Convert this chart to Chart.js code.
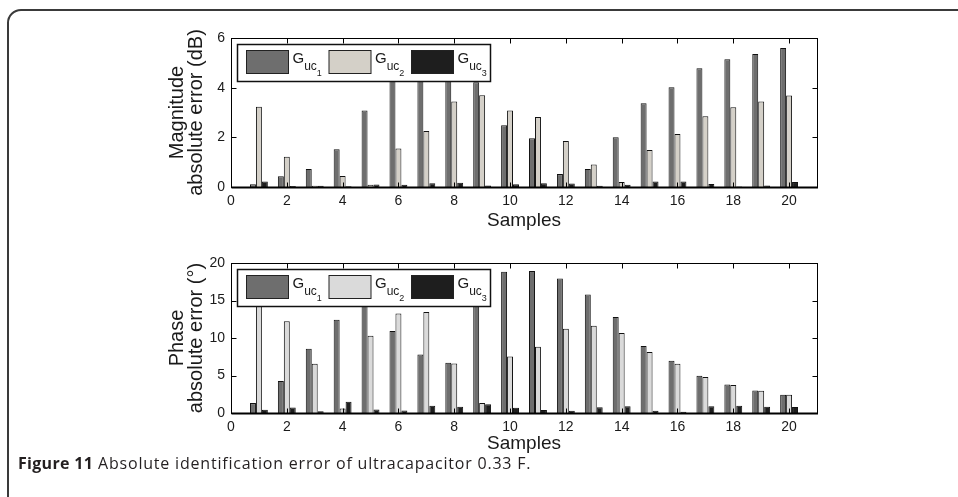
<!DOCTYPE html>
<html><head><meta charset="utf-8">
<script src="https://cdn.jsdelivr.net/npm/chart.js@4"></script>
<style>
html,body{margin:0;padding:0;background:#fff}
body{width:958px;height:497px;overflow:hidden;position:relative}
#frame{position:absolute;left:7px;top:9px;width:1000px;height:600px;border:2px solid #3a3a3a;border-top-left-radius:14px;box-sizing:border-box}
canvas{position:absolute;left:0}
#c1{top:0}
#c2{top:245px}
#cap{position:absolute;left:18px;top:452px;font-family:"Open Sans",sans-serif;font-size:16px;line-height:22px;letter-spacing:0.8px;color:#231f20;white-space:nowrap}
#cap b{font-weight:700;letter-spacing:0.3px}
</style></head>
<body>
<div id="frame"></div>
<canvas id="c1" width="958" height="245"></canvas>
<canvas id="c2" width="958" height="245"></canvas>
<div id="cap"><b>Figure 11</b> Absolute identification error of ultracapacitor 0.33 F.</div>
<script>
// ---- data ----
const samples = [1,2,3,4,5,6,7,8,9,10,11,12,13,14,15,16,17,18,19,20];
const xTickValues = [0,2,4,6,8,10,12,14,16,18,20];
const seriesBase = 'G';
const seriesSub = 'uc';
const seriesIdx = ['1','2','3'];
const magG1 = [0.11,0.43,0.72,1.52,3.08,4.6,4.8,4.5,4.22,2.49,1.96,0.52,0.72,2.0,3.37,4.02,4.78,5.14,5.36,5.6];
const magG2 = [3.23,1.22,0.05,0.44,0.09,1.55,2.26,3.44,3.69,3.08,2.82,1.85,0.91,0.2,1.49,2.13,2.85,3.21,3.44,3.68];
const magG3 = [0.22,0.04,0.05,0.03,0.1,0.09,0.15,0.17,0.06,0.11,0.15,0.14,0.05,0.09,0.22,0.22,0.12,0.02,0.06,0.2];
const phG1 = [1.32,4.26,8.58,12.45,15.5,10.95,7.8,6.7,17.5,18.84,18.93,17.95,15.8,12.8,8.93,6.96,4.96,3.8,2.99,2.42];
const phG2 = [16.5,12.25,6.58,0.6,10.3,13.27,13.48,6.6,1.34,7.54,8.85,11.25,11.65,10.67,8.13,6.56,4.8,3.72,2.96,2.42];
const phG3 = [0.45,0.73,0.22,1.5,0.46,0.32,0.98,0.82,1.16,0.71,0.4,0.31,0.76,0.89,0.31,0.16,0.89,0.98,0.85,0.8];
const xTitle = 'Samples';
const magTitle = ['Magnitude','absolute error (dB)'];
const phTitle = ['Phase','absolute error (\u00B0)'];

const FONT = '"Liberation Sans", Arial, sans-serif';
const TXT = '#1a1a1a';

const matlabPlugin = {
  id: 'matlabBox',
  afterDatasetsDraw(chart) {
    const ctx = chart.ctx, a = chart.chartArea;
    const xs = chart.scales.x, ys = chart.scales.y;
    ctx.save();
    ctx.strokeStyle = '#000';
    ctx.lineWidth = 1;
    const L = Math.round(a.left)+0.5, R = Math.round(a.right)+0.5, T = Math.round(a.top)+0.5, B = Math.round(a.bottom)+0.5;
    ctx.beginPath();
    xs.ticks.forEach(t => {
      const p = Math.round(xs.getPixelForValue(t.value))+0.5;
      ctx.moveTo(p, T); ctx.lineTo(p, T+5);
      ctx.moveTo(p, B); ctx.lineTo(p, B-5);
    });
    ys.ticks.forEach(t => {
      const p = Math.round(ys.getPixelForValue(t.value))+0.5;
      ctx.moveTo(L, p); ctx.lineTo(L+5, p);
      ctx.moveTo(R, p); ctx.lineTo(R-5, p);
    });
    ctx.stroke();
    ctx.strokeRect(L, T, R-L, B-T);
    ctx.lineWidth = 2;
    ctx.beginPath(); ctx.moveTo(L, B); ctx.lineTo(R+0.5, B); ctx.stroke();
    // legend
    const x0 = Math.round(a.left)+6.5, y0 = Math.round(a.top)+6.5, w = 253, h = 37;
    ctx.fillStyle = '#fff';
    ctx.fillRect(x0, y0, w, h);
    ctx.lineWidth = 1.5;
    ctx.strokeStyle = '#111';
    ctx.strokeRect(x0, y0, w, h);
    chart.data.datasets.forEach((ds, i) => {
      const sx = x0 + 9 + i*82.5;
      ctx.fillStyle = ds.backgroundColor;
      ctx.fillRect(sx, y0+6, 42, 23);
      ctx.lineWidth = 1;
      ctx.strokeStyle = '#222';
      ctx.strokeRect(sx, y0+6, 42, 23);
      ctx.fillStyle = TXT;
      ctx.textBaseline = 'alphabetic';
      ctx.textAlign = 'left';
      ctx.font = '15px ' + FONT;
      const gx = sx + 46;
      ctx.fillText(seriesBase, gx, y0+18);
      const gw = ctx.measureText(seriesBase).width;
      ctx.font = '12px ' + FONT;
      ctx.fillText(seriesSub, gx+gw, y0+25);
      const uw = ctx.measureText(seriesSub).width;
      ctx.font = '9px ' + FONT;
      ctx.fillText(seriesIdx[i], gx+gw+uw, y0+31);
    });
    ctx.restore();
  }
};

function makeChart(id, d1, d2, d3, colors, yMax, yStep, yTitle, padTop, padBottom, titlePadBottom) {
  const mk = (arr, i) => ({
    label: seriesBase + seriesSub + seriesIdx[i],
    data: samples.map((s, k) => ({x: s, y: arr[k]})),
    backgroundColor: colors[i],
    borderColor: '#111',
    borderWidth: 1,
    categoryPercentage: 0.64,
    barPercentage: 1.0
  });
  return new Chart(document.getElementById(id), {
    type: 'bar',
    data: {datasets: [mk(d1,0), mk(d2,1), mk(d3,2)]},
    options: {
      responsive: false,
      animation: false,
      devicePixelRatio: 1,
      layout: {padding: {left: 151, right: 141, top: padTop, bottom: padBottom}},
      plugins: {legend: {display: false}, tooltip: {enabled: false}},
      scales: {
        x: {
          type: 'linear', min: 0, max: 21, offset: false,
          grid: {display: false, drawTicks: false}, border: {display: false},
          afterBuildTicks: s => { s.ticks = xTickValues.map(v => ({value: v})); },
          ticks: {autoSkip: false, maxRotation: 0, padding: 6, color: TXT, font: {family: FONT, size: 14}},
          title: {display: true, text: xTitle, color: TXT, font: {family: FONT, size: 19}, padding: {top: 0, bottom: titlePadBottom}},
          afterFit: s => { s.height = 58; }
        },
        y: {
          min: 0, max: yMax,
          grid: {display: false, drawTicks: false}, border: {display: false},
          ticks: {stepSize: yStep, padding: 6, color: TXT, font: {family: FONT, size: 14}},
          title: {display: true, text: yTitle, color: TXT, font: {family: FONT, size: 20, lineHeight: 0.95}, padding: {top: 17, bottom: 0}},
          afterFit: s => { s.width = 80; }
        }
      }
    },
    plugins: [matlabPlugin]
  });
}

makeChart('c1', magG1, magG2, magG3, ['#6e6e6e', '#d4d0c8', '#1e1e1e'], 6, 2, magTitle, 38, 0, 13);
makeChart('c2', phG1, phG2, phG3, ['#6e6e6e', '#dadada', '#1e1e1e'], 20, 5, phTitle, 18, 19, 16);
</script>
</body></html>
